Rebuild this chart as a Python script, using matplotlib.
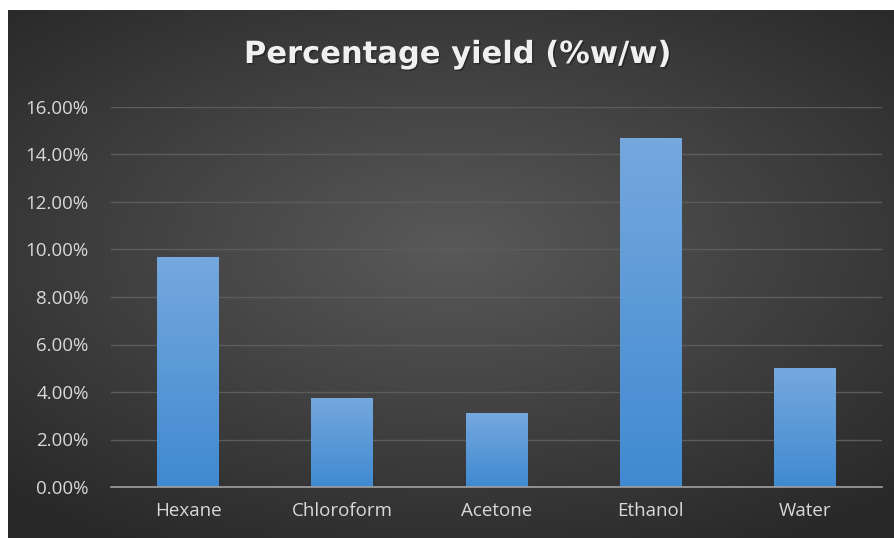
import numpy as np
import matplotlib.pyplot as plt
import matplotlib.patheffects as pe
from matplotlib.ticker import PercentFormatter, MultipleLocator

# Extraction yield per solvent (%w/w)
solvents = ["Hexane", "Chloroform", "Acetone", "Ethanol", "Water"]
yields = [9.68, 3.75, 3.12, 14.69, 5.01]

TITLE = "Percentage yield (%w/w)"
FONT = "Open Sans"

W, H, DPI = 895, 538, 100
fig = plt.figure(figsize=(W / DPI, H / DPI), dpi=DPI, facecolor="white")

# dark chart area with a soft radial highlight
bg = fig.add_axes([8 / W, 0, 1 - 8 / W, 1 - 10 / H])
bg.set_axis_off()
yy, xx = np.mgrid[-1:1:300j, -1:1:500j]
r = np.sqrt((xx * 0.9) ** 2 + ((yy + 0.1) * 1.0) ** 2)
shade = np.clip(1 - r / 1.3, 0, 1)
lo = np.array([0.16, 0.16, 0.16])
hi = np.array([0.35, 0.35, 0.35])
img = lo + (hi - lo) * shade[..., None]
bg.imshow(img, aspect="auto", extent=[0, 1, 0, 1], interpolation="bicubic")

ax = fig.add_axes([111 / W, 1 - 487 / H, (882 - 111) / W, (487 - 107) / H])
ax.patch.set_alpha(0)

x = np.arange(len(solvents))
bars = ax.bar(x, yields, width=0.4, color="#5b9bd5", zorder=3)

# vertical gradient inside each bar
grad = np.linspace(0, 1, 256)[:, None]
top = np.array([0.46, 0.66, 0.87])
bottom = np.array([0.25, 0.54, 0.82])
gimg = bottom + (top - bottom) * grad[..., None]
for b in bars:
    x0 = b.get_x()
    im = ax.imshow(gimg, origin="lower", aspect="auto", zorder=4,
                   extent=[x0, x0 + b.get_width(), 0, b.get_height()])
    im.set_clip_path(b)

ax.set_xlim(-0.5, len(solvents) - 0.5)
ax.set_ylim(0, 16)
ax.yaxis.set_major_locator(MultipleLocator(2))
ax.yaxis.set_major_formatter(PercentFormatter(decimals=2))
ax.set_xticks(x)
ax.set_xticklabels(solvents)

ax.grid(axis="y", color="#5c5c5c", linewidth=1, zorder=0)
for s in ["top", "right", "left"]:
    ax.spines[s].set_visible(False)
ax.spines["bottom"].set_color("#a0a0a0")
ax.spines["bottom"].set_linewidth(1.2)
ax.spines["bottom"].set_zorder(5)

ax.tick_params(axis="both", length=0, colors="#d9d9d9", labelsize=13.5)
ax.tick_params(axis="x", pad=11)
ax.tick_params(axis="y", pad=16)
for lab in ax.get_yticklabels() + ax.get_xticklabels():
    lab.set_fontfamily(FONT)

shadow = [pe.SimplePatchShadow(offset=(1, -1), shadow_rgbFace="black", alpha=0.35),
          pe.Normal()]
fig.text(457 / W, 1 - 63 / H, TITLE, ha="center", va="baseline",
         fontsize=22, fontweight="bold", family="DejaVu Sans",
         color="#f0f0f0", path_effects=shadow)

fig.savefig("out.png", dpi=DPI, facecolor=fig.get_facecolor())
